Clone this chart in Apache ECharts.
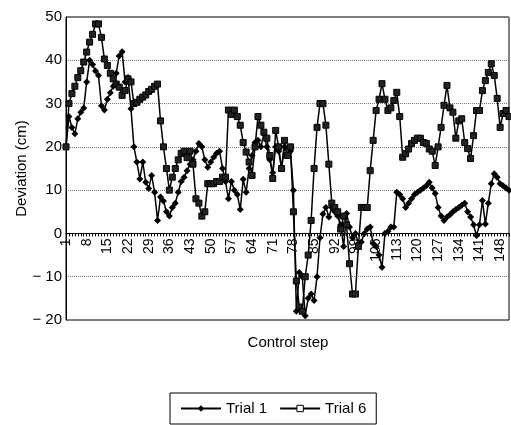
<!DOCTYPE html>
<html>
<head>
<meta charset="utf-8">
<script src="https://cdn.jsdelivr.net/npm/echarts@6/dist/echarts.min.js"></script>
<style>
  html, body { margin: 0; padding: 0; background: #fff; }
  #grafico { width: 511px; height: 425px; }
</style>
</head>
<body>
<div id="grafico"></div>
<script>
// pasos de control 1..151
const pasos = [];
for (let i = 1; i <= 151; i++) pasos.push(String(i));

const trial1 = [
    20, 27, 24.5, 23, 26.5, 28, 29, 35, 40, 39,
    37.5, 36.5, 29.5, 28.5, 31, 32.5, 34, 37, 41, 42,
    35, 36, 28.8, 20, 16.5, 12.6, 16.5, 11.8, 10.4, 13.4,
    9.5, 3, 8.4, 7.5, 5, 4, 6, 7, 9.5, 12,
    13, 14.5, 16, 17, 19, 20.8, 20, 17, 15.3, 16.5,
    17.6, 18.5, 19, 15, 12, 8, 12, 10, 9, 5.5,
    12.5, 9.5, 15, 18, 21, 21.5, 20, 23, 20, 17,
    14, 20, 19, 15, 20, 18, 19, 10, -18, -9,
    -10, -19, -15, -14, -15.5, -10, -1, 4.5, 6, 3.8,
    6, 5, 4, 2, -3, 4.6, 1.5, -1, 0, -2.3,
    -2, 0, 1, 1.5, -2.3, -3, -5, -7.8, 0, 0.5,
    1.5, 1.5, 9.5, 9, 8, 6, 7, 8, 9, 9.5,
    10, 10.5, 11, 11.8, 10.5, 9.2, 6, 4, 3, 3.8,
    4.3, 5, 5.5, 6, 6.5, 7, 5, 3.8, 2, -0.5,
    2, 7.6, 2.2, 7, 11.5, 13.8, 13, 11.5, 11, 10.5,
    10
];

const trial6 = [
    20, 30, 32.3, 34, 36, 37.6, 39.6, 41.9, 44.2, 46,
    48.4, 48.4, 45.3, 40.3, 38.8, 37, 35.7, 34.5, 33.8, 31.9,
    33, 35.7, 35, 30, 30.3, 31, 31.5, 32, 32.8, 33.3,
    34, 34.5, 26, 20, 15, 10, 13, 15, 17, 18.5,
    19, 17.5, 19, 16, 8, 7, 4, 5, 11.5, 11.5,
    11.5, 12, 12, 13, 13, 28.5, 27.5, 28.5, 27, 25,
    21, 18.8, 16.5, 13.4, 20, 27, 25, 23.4, 22, 18,
    12.7, 23.8, 20, 15, 21.5, 18, 20, 5, -11, -17,
    -18, -10, -5, 3, 15, 24.5, 30, 30, 25, 16,
    7, 6, 5, 1, 4, 2, -7, -14, -14, -3,
    6, 6, 6, 14.5, 21.5, 28.4, 31, 34.6, 31, 28.4,
    29, 30.7, 32.6, 27, 17.6, 18.4, 19.5, 20.8, 21.5, 22,
    22, 21, 20.8, 19.5, 19, 15.7, 20, 24.5, 29.6, 34.2,
    29, 28, 22, 26, 26.5, 21, 19.6, 17.3, 22.6, 28.4,
    28.4, 33, 35.3, 37.2, 39.2, 36.5, 31.2, 24.5, 27.7, 28.4,
    27
];

const yMin = -20;
const yMax = 50;
const fuente = 'Liberation Sans, Arial, sans-serif';

const chartDom = document.getElementById('grafico');
const myChart = echarts.init(chartDom);

// alto del area de trazado, para subir el eje x hasta el cero
const altoGrid = 425 - 17 - 105;
const desplazamientoCero = -altoGrid * (0 - yMin) / (yMax - yMin);

const option = {
    animation: false,
    backgroundColor: '#fff',
    textStyle: { fontFamily: fuente, color: '#000' },
    grid: {
        left: 66,
        right: 2,
        top: 17,
        bottom: 105,
        show: true,
        borderColor: '#000',
        borderWidth: 1
    },
    graphic: [{
        type: 'text',
        x: 288,
        y: 335,
        style: {
            text: 'Control step',
            font: '15px ' + fuente,
            fill: '#000',
            textAlign: 'center'
        }
    }],
    legend: {
        left: 170,
        top: 393,
        padding: [8, 10, 8, 10],
        borderColor: '#000',
        borderWidth: 1,
        itemWidth: 40,
        itemHeight: 8,
        itemGap: 12,
        textStyle: { fontSize: 15, fontFamily: fuente, color: '#000' },
        data: [
            { name: 'Trial 1' },
            { name: 'Trial 6', itemStyle: { color: '#fff', borderColor: '#000', borderWidth: 1 } }
        ]
    },
    xAxis: {
        type: 'category',
        data: pasos,
        boundaryGap: false,
        position: 'bottom',
        offset: desplazamientoCero,
        axisLine: { onZero: false, lineStyle: { color: '#000', width: 1 } },
        axisTick: { interval: 0, length: 3, lineStyle: { color: '#000' } },
        axisLabel: {
            interval: 6,
            rotate: 90,
            fontSize: 14,
            color: '#000',
            margin: 5
        },
        splitLine: { show: false }
    },
    yAxis: {
        type: 'value',
        min: yMin,
        max: yMax,
        interval: 10,
        name: 'Deviation (cm)',
        nameLocation: 'middle',
        nameGap: 37,
        nameMoveOverlap: false,
        nameTextStyle: { fontSize: 15, fontFamily: fuente, color: '#000' },
        axisLine: { show: true, lineStyle: { color: '#000', width: 1 } },
        axisTick: { show: false },
        axisLabel: {
            fontSize: 15,
            color: '#000',
            margin: 4,
            formatter: v => v < 0 ? '\u2212 ' + Math.abs(v) : String(v)
        },
        splitLine: { lineStyle: { type: 'dotted', color: '#777', width: 1 } }
    },
    series: [
        {
            name: 'Trial 1',
            type: 'line',
            data: trial1,
            symbol: 'diamond',
            symbolSize: 7,
            showAllSymbol: true,
            lineStyle: { color: '#000', width: 1.5 },
            itemStyle: { color: '#000' }
        },
        {
            name: 'Trial 6',
            type: 'line',
            data: trial6,
            symbol: 'rect',
            symbolSize: 6,
            showAllSymbol: true,
            lineStyle: { color: '#000', width: 1.5 },
            itemStyle: { color: '#222', borderColor: '#000', borderWidth: 1 }
        }
    ]
};

myChart.setOption(option);
</script>
</body>
</html>
